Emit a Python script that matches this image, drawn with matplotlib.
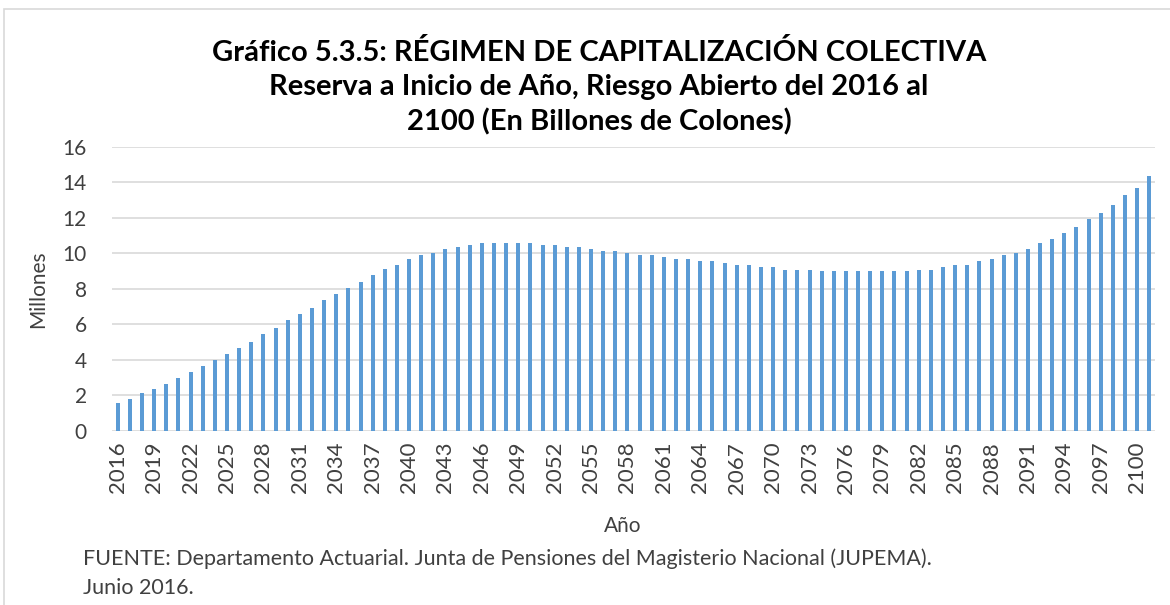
import matplotlib
matplotlib.use("Agg")
import matplotlib.pyplot as plt
from matplotlib.patches import Rectangle

# ---------- data ----------
years = list(range(2016, 2102))
reserva = [1.58, 1.81, 2.15, 2.38, 2.62, 2.96, 3.31, 3.65, 4.00, 4.34,
           4.68, 5.02, 5.47, 5.81, 6.26, 6.59, 6.93, 7.37, 7.70, 8.04,
           8.39, 8.75, 9.10, 9.33, 9.69, 9.92, 10.04, 10.25, 10.37, 10.47,
           10.58, 10.58, 10.58, 10.58, 10.58, 10.47, 10.47, 10.36, 10.36, 10.24,
           10.13, 10.13, 10.02, 9.90, 9.90, 9.78, 9.67, 9.67, 9.55, 9.55,
           9.43, 9.31, 9.31, 9.20, 9.20, 9.08, 9.08, 9.08, 8.98, 8.98,
           8.98, 8.98, 8.98, 8.98, 8.98, 8.98, 9.08, 9.08, 9.22, 9.33,
           9.33, 9.57, 9.69, 9.92, 10.04, 10.26, 10.59, 10.81, 11.15, 11.48,
           11.93, 12.26, 12.70, 13.26, 13.70, 14.36]
yticks = [0, 2, 4, 6, 8, 10, 12, 14, 16]
tick_years = years[::3]   # 2016, 2019, ..., 2100

title = ("Gráfico 5.3.5: RÉGIMEN DE CAPITALIZACIÓN COLECTIVA\n"
         "Reserva a Inicio de Año, Riesgo Abierto del 2016 al\n"
         "2100 (En Billones de Colones)")
fuente = ("FUENTE: Departamento Actuarial. Junta de Pensiones del Magisterio Nacional (JUPEMA).\n"
          "Junio 2016.")

plt.rcParams["font.family"] = ["Lato", "DejaVu Sans"]
txt = "#404040"

fig = plt.figure(figsize=(11.7, 6.05), dpi=100)
fig.patches.append(Rectangle((0.003, -0.01), 1.2, 0.995, transform=fig.transFigure,
                             fill=False, ec="#D9D9D9", lw=1.2))
ax = fig.add_axes([0.0955, 0.288, 0.892, 0.4695])

x = list(range(len(years)))
ax.bar(x, reserva, width=0.33, color="#5B9BD5", zorder=3)
ax.set_xlim(-0.5, len(years) - 0.5)
ax.set_ylim(0, 16)
ax.set_yticks(yticks)
ax.set_xticks([years.index(y) for y in tick_years])
ax.set_xticklabels([str(y) for y in tick_years], rotation=90)
ax.tick_params(axis="both", length=0, labelsize=15, colors=txt)
ax.tick_params(axis="x", pad=8, labelsize=16)
ax.tick_params(axis="y", pad=18)
ax.yaxis.grid(True, color="#D9D9D9", lw=1.2, zorder=0)
for s in ax.spines.values():
    s.set_visible(False)

ax.set_ylabel("Millones", fontsize=15, color=txt, labelpad=10)
ax.set_xlabel("Año", fontsize=15, color=txt)
ax.xaxis.set_label_coords(0.49, -0.30)

fig.text(0.512, 0.935, title, ha="center", va="top", fontsize=21, fontweight="bold",
         color="#000000", linespacing=1.38)
fig.text(0.071, 0.053, fuente, ha="left", va="center", fontsize=15.5, color=txt,
         linespacing=1.55)

fig.savefig("out.png", dpi=100)
